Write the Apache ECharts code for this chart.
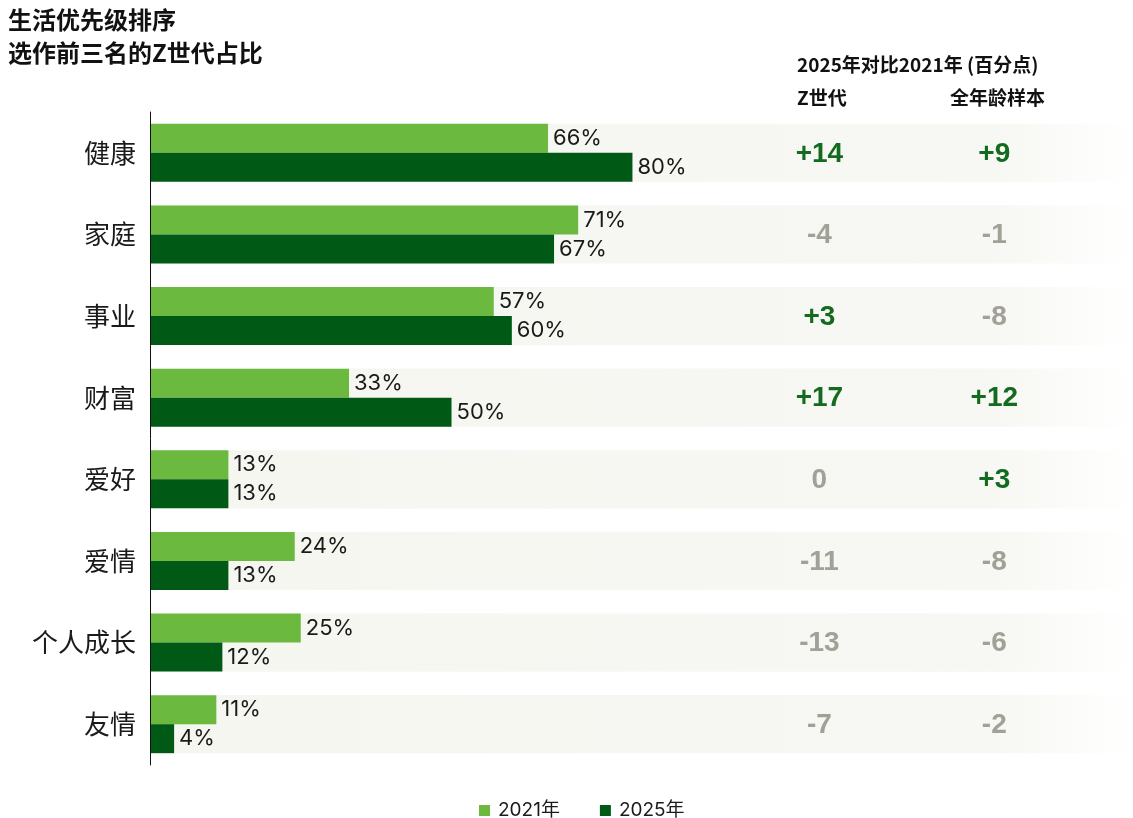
<!DOCTYPE html>
<html>
<head>
<meta charset="utf-8">
<script src="https://cdn.jsdelivr.net/npm/echarts@6/dist/echarts.min.js"></script>
<style>
  html, body { margin: 0; padding: 0; background: #ffffff; }
  #chart { width: 1133px; height: 818px; }
</style>
</head>
<body>
<div id="chart"></div>
<script>
// Life priorities: share of Gen Z ranking each item in their top three
const categories = ['健康', '家庭', '事业', '财富', '爱好', '爱情', '个人成长', '友情'];
const share2021 = [66, 71, 57, 33, 13, 24, 25, 11];
const share2025 = [80, 67, 60, 50, 13, 13, 12, 4];
// Change 2025 vs 2021, in percentage points
const deltaGenZ = [14, -4, 3, 17, 0, -11, -13, -7];
const deltaAllAges = [9, -1, -8, 12, 3, -8, -6, -2];
const seriesNames = ['2021年', '2025年'];

const CJK = '"Noto Sans CJK SC", "Noto Sans", sans-serif';
const NUM_FONT = 'Inter, "Noto Sans CJK SC", sans-serif';
const LIGHT = '#6cb940';
const DARK = '#005a16';
const UP = '#126b1e';
const FLAT = '#a2a197';
const X_MAX = 163;
const COL_GENZ = 111;
const COL_ALL = 140;

const chart = echarts.init(document.getElementById('chart'), null, { renderer: 'canvas' });

function fmtDelta(v) { return v > 0 ? '+' + v : String(v); }

// background band behind each category row
function bandItem(params, api) {
  const cat = api.value(0);
  const center = api.coord([0, cat]);
  const bandH = api.size([0, 1])[1] * 0.715;
  const cs = params.coordSys;
  return {
    type: 'rect',
    shape: { x: cs.x, y: center[1] - bandH / 2, width: cs.width, height: bandH },
    style: {
      fill: new echarts.graphic.LinearGradient(0, 0, 1, 0, [
        { offset: 0, color: '#f6f6f1' },
        { offset: 0.86, color: '#f7f7f3' },
        { offset: 1, color: '#ffffff' }
      ])
    },
    silent: true
  };
}

// change-in-points text for one column
function deltaRenderer(colX) {
  return function (params, api) {
    const v = api.value(1);
    const p = api.coord([colX, api.value(0)]);
    return {
      type: 'text',
      x: p[0], y: p[1] + 1,
      style: {
        text: fmtDelta(v),
        fill: v > 0 ? UP : FLAT,
        fontSize: 28,
        fontWeight: 'bold',
        fontFamily: '"Liberation Sans", Arial, sans-serif',
        align: 'center',
        verticalAlign: 'middle'
      }
    };
  };
}

const barLabel = {
  show: true,
  position: 'right',
  distance: 5,
  formatter: '{c}%',
  color: '#1a1a1a',
  fontSize: 22,
  fontFamily: NUM_FONT
};

function headerText(text, left, top, size) {
  return {
    type: 'text', left: left, top: top,
    style: { text: text, fontSize: size, fontWeight: 'bold', fontFamily: CJK, fill: '#111111' }
  };
}

chart.setOption({
  animation: false,
  backgroundColor: '#ffffff',
  grid: { left: 150, right: 0, top: 112, bottom: 53, containLabel: false },
  xAxis: {
    type: 'value', min: 0, max: X_MAX,
    show: false
  },
  yAxis: {
    type: 'category',
    data: categories,
    inverse: true,
    axisLine: { show: true, lineStyle: { color: '#111111', width: 1 } },
    axisTick: { show: false },
    axisLabel: { color: '#1a1a1a', fontSize: 26, fontFamily: CJK, margin: 14 },
    z: 5
  },
  legend: {
    top: 796,
    left: 474,
    itemWidth: 11,
    itemHeight: 11,
    itemGap: 40,
    icon: 'rect',
    textStyle: { color: '#1a1a1a', fontSize: 19, fontFamily: NUM_FONT, padding: [0, 0, 0, 3] },
    data: seriesNames
  },
  graphic: [
    {
      type: 'text', left: 8, top: 3,
      style: {
        text: '生活优先级排序\n选作前三名的Z世代占比',
        fontSize: 24, fontWeight: 'bold', fontFamily: CJK,
        lineHeight: 33, fill: '#111111'
      }
    },
    headerText('2025年对比2021年 (百分点)', 797, 55, 19),
    headerText('Z世代', 797, 88, 19),
    headerText('全年龄样本', 950, 88, 19)
  ],
  series: [
    {
      type: 'custom',
      name: 'band',
      renderItem: bandItem,
      data: categories.map((c, i) => [i]),
      encode: { y: 0 },
      z: 0,
      silent: true
    },
    {
      type: 'bar',
      name: seriesNames[0],
      data: share2021,
      barWidth: 29,
      barGap: '0%',
      itemStyle: { color: LIGHT },
      label: barLabel,
      z: 2
    },
    {
      type: 'bar',
      name: seriesNames[1],
      data: share2025,
      barWidth: 29,
      barGap: '0%',
      itemStyle: { color: DARK },
      label: barLabel,
      z: 2
    },
    {
      type: 'custom',
      name: 'deltaGenZ',
      renderItem: deltaRenderer(COL_GENZ),
      data: deltaGenZ.map((v, i) => [i, v]),
      encode: { y: 0 },
      z: 3,
      silent: true
    },
    {
      type: 'custom',
      name: 'deltaAll',
      renderItem: deltaRenderer(COL_ALL),
      data: deltaAllAges.map((v, i) => [i, v]),
      encode: { y: 0 },
      z: 3,
      silent: true
    }
  ]
});
</script>
</body>
</html>
